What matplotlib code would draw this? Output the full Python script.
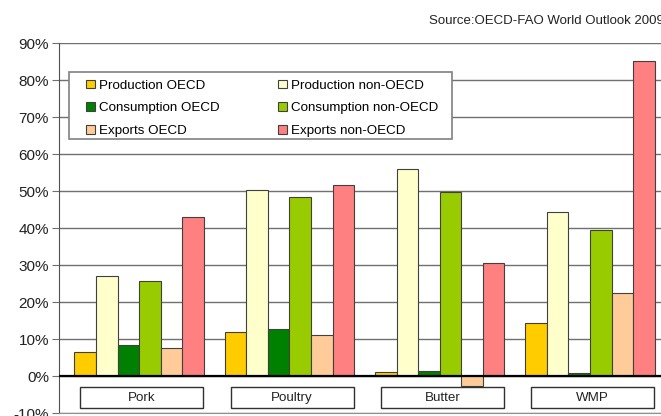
import numpy as np
import matplotlib
matplotlib.use("Agg")
import matplotlib.pyplot as plt
from matplotlib.patches import Rectangle

plt.rcParams['font.family'] = ['Liberation Sans', 'DejaVu Sans']

# shares of world total, in %
categories = ['Pork', 'Poultry', 'Butter', 'WMP']
series = ['Production OECD', 'Production non-OECD', 'Consumption OECD',
          'Consumption non-OECD', 'Exports OECD', 'Exports non-OECD']
prod_oecd = [6.6, 12.0, 1.2, 14.4]
prod_non = [27.1, 50.3, 55.9, 44.5]
cons_oecd = [8.5, 12.8, 1.5, 0.8]
cons_non = [25.7, 48.4, 49.8, 39.6]
exp_oecd = [7.6, 11.1, -2.5, 22.5]
exp_non = [43.0, 51.6, 30.5, 85.3]
colors = ['#FFCC00', '#FFFFCC', '#008000', '#99CC00', '#FFCC99', '#FF8080']
yticks = list(range(-10, 91, 10))

values = [prod_oecd, prod_non, cons_oecd, cons_non, exp_oecd, exp_non]

fig = plt.figure(figsize=(6.61, 4.16), dpi=100)
ax = fig.add_axes([0.0888, 0.0065, 0.9112, 0.8894])

x = np.arange(len(categories))
w = 0.1435
for j, (name, vals, c) in enumerate(zip(series, values, colors)):
    ax.bar(x + (j - 2.5) * w, vals, w, color=c, edgecolor='#404040',
           linewidth=0.8, label=name, zorder=3)

ax.set_xlim(-0.5356, 3.472)
ax.set_ylim(-10, 90)
ax.set_yticks(yticks)
ax.set_yticklabels([f'{t}%' for t in yticks], fontsize=11, color='#222222')
ax.set_xticks([])
ax.yaxis.grid(True, color='#707070', linewidth=1, zorder=0)
ax.axhline(0, color='black', linewidth=1.6, zorder=4)
ax.tick_params(axis='y', length=5, color='#707070', pad=2)
for s in ['top', 'right']:
    ax.spines[s].set_visible(False)
ax.spines['left'].set_color('#505050')
ax.spines['bottom'].set_color('#909090')

# category label boxes
for i, cat in enumerate(categories):
    ax.add_patch(Rectangle((i + 0.018 - 0.409, -8.65), 0.818, 5.8,
                           facecolor='white', edgecolor='#303030',
                           linewidth=1, zorder=5))
    ax.text(i + 0.018, -5.75, cat, ha='center', va='center',
            fontsize=9.6, color='#222222', zorder=6)

# legend with a hand-placed frame, filled row by row
ax.add_patch(Rectangle((0.0171, 0.7405), 0.636, 0.182, transform=ax.transAxes,
                       facecolor='white', edgecolor='#808080', linewidth=1.2,
                       zorder=6))
handles, labels = ax.get_legend_handles_labels()
order = [0, 2, 4, 1, 3, 5]
leg = ax.legend([handles[k] for k in order], [labels[k] for k in order],
                ncol=2, loc='upper left', bbox_to_anchor=(0.0453, 0.902),
                frameon=False, fontsize=9.6, borderpad=0, borderaxespad=0,
                handlelength=0.65, handleheight=0.65, handletextpad=0.3,
                labelspacing=0.78, columnspacing=4.4)
leg.set_zorder(7)

fig.text(0.649, 0.9495, 'Source:OECD-FAO World Outlook 2009', fontsize=9.5,
         va='center', ha='left', color='#222222')

fig.savefig('out.png', dpi=100)
